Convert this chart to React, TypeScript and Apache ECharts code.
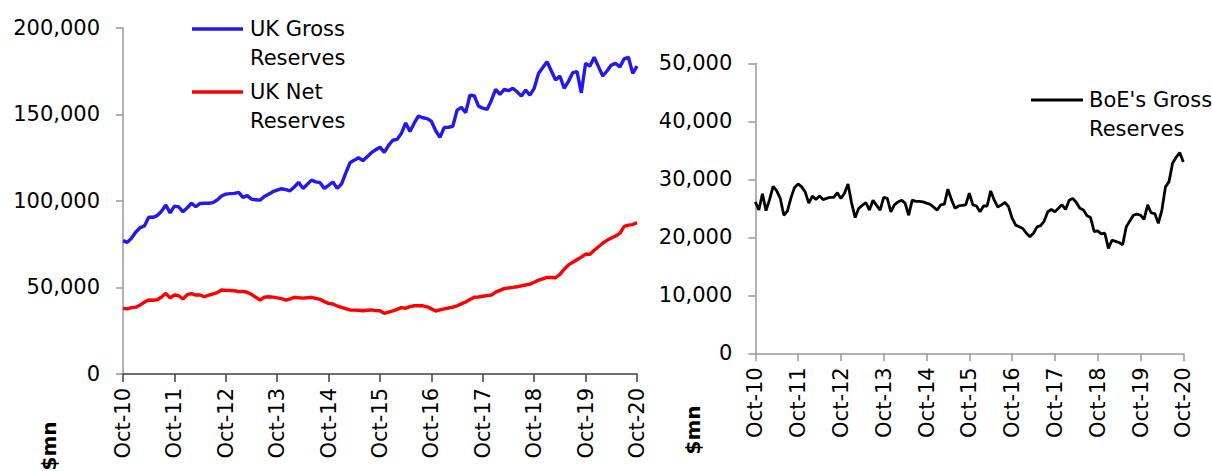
import React, { useEffect, useRef } from "react";
import * as echarts from "echarts";

// Monthly, Oct-10 .. Oct-20 ($mn)
const monthNames = ["Jan", "Feb", "Mar", "Apr", "May", "Jun", "Jul", "Aug", "Sep", "Oct", "Nov", "Dec"];
const months: string[] = [];
for (let k = 0; k <= 120; k++) {
  const m = (9 + k) % 12;
  const y = 10 + Math.floor((9 + k) / 12);
  months.push(`${monthNames[m]}-${y}`);
}

const ukGross = [
  77000, 76000, 78500, 82000, 84500, 85500, 90500, 90500, 91500, 94000,
  97600, 93000, 97000, 96500, 93700, 96000, 98600, 96600, 98500, 98600,
  98600, 99000, 100500, 102800, 103900, 104200, 104300, 104900, 102000, 103000,
  101000, 100600, 100400, 102500, 103800, 105300, 106200, 107000, 106500, 105800,
  108000, 110700, 107200, 109500, 112000, 111000, 110500, 107200, 109000, 110900,
  107200, 109700, 116000, 122000, 123500, 124900, 123200, 125500, 127800, 129500,
  131000, 128000, 132000, 135000, 135500, 139000, 145000, 140000, 145000, 149000,
  148000, 147500, 146000, 140500, 136700, 142400, 142500, 143000, 152400, 154000,
  151000, 161000, 160700, 154700, 153500, 152800, 158000, 164400, 161500, 164400,
  163600, 165000, 163000, 160500, 164000, 161100, 165000, 173600, 177000, 180300,
  175000, 169800, 172100, 165000, 169000, 174000, 174600, 162400, 179400, 177800,
  182900, 177500, 172100, 175000, 178400, 179400, 177400, 182000, 182900, 173600,
  177800,
];

const ukNet = [
  37900, 37600, 38300, 38600, 39800, 41500, 42700, 42600, 42900, 44500,
  46600, 44000, 45600, 45200, 43300, 45800, 46400, 45600, 45600, 44600,
  45500, 46200, 47000, 48500, 48300, 48200, 48100, 47500, 47700, 47200,
  46000, 44300, 42700, 44400, 44600, 44400, 44000, 43500, 42700, 43300,
  44300, 44000, 43800, 44000, 44300, 43700, 43100, 41800, 40800, 40400,
  39300, 38500, 37700, 37000, 36900, 36800, 36500, 36800, 37000, 36600,
  36500, 35000, 35700, 36400, 37300, 38300, 38000, 38900, 39400, 39400,
  39400, 38800, 37600, 36400, 37000, 37600, 38100, 38600, 39400, 40500,
  41600, 43000, 44300, 44500, 44900, 45300, 45600, 47300, 48300, 49300,
  49700, 50000, 50400, 50900, 51400, 51900, 53000, 54200, 55000, 55800,
  55700, 55600, 57500, 60500, 63000, 64500, 66000, 67500, 69300, 69100,
  71500, 73500, 75500, 77200, 78500, 79700, 81200, 85200, 86000, 86300,
  87400,
];

const boeGross = [
  26100, 24700, 27500, 24600, 26500, 28800, 28000, 26700, 23800, 24500,
  26800, 28600, 29200, 28700, 27800, 25900, 27100, 26500, 27100, 26500,
  26700, 26900, 26900, 27700, 26700, 27600, 29200, 25900, 23400, 25000,
  25500, 26000, 24700, 26400, 25500, 24700, 26900, 26700, 24400, 25600,
  26100, 26400, 25900, 23800, 26400, 26200, 26200, 26100, 25900, 25700,
  25200, 24700, 25600, 25700, 28300, 26500, 25000, 25400, 25500, 25600,
  27600, 25600, 25400, 24400, 25400, 25400, 28000, 26400, 25200, 25600,
  26000, 25300, 23300, 22100, 21800, 21500, 20700, 20100, 20700, 21800,
  22000, 22800, 24400, 24800, 24400, 25000, 25600, 24800, 26400, 26700,
  26000, 25000, 24700, 23700, 23400, 21000, 21100, 20600, 20700, 18100,
  19500, 19300, 19100, 18700, 21800, 22800, 23800, 24000, 23800, 23100,
  25600, 24200, 24100, 22400, 24700, 28700, 29600, 32800, 33800, 34600,
  33000,
];

const FONT = "DejaVu Sans";
const fmt = (v: number) => v.toLocaleString("en-US");

export default function App() {
  const ref = useRef<HTMLDivElement>(null);
  useEffect(() => {
    document.body.style.margin = "0";
    const chart = echarts.init(ref.current!, null, { renderer: "svg" });
    const xAxisBase = (gridIndex: number, lineColor: string) => ({
      type: "category",
      gridIndex,
      data: months,
      boundaryGap: false,
      axisLine: { show: true, lineStyle: { color: lineColor, width: 1.5 } },
      axisTick: {
        show: true,
        interval: (i: number) => i % 12 === 0,
        length: 8,
        lineStyle: { color: lineColor, width: 1.5 },
      },
      axisLabel: {
        interval: (i: number) => i % 12 === 0,
        rotate: 90,
        margin: 14,
        fontSize: 21,
        color: "#000",
        fontFamily: FONT,
        formatter: (v: string) => v.replace(/^\w+/, "Oct"),
      },
      splitLine: { show: false },
    });
    const yAxisBase = (gridIndex: number, max: number, interval: number) => ({
      type: "value",
      gridIndex,
      min: 0,
      max,
      interval,
      axisLine: { show: true, lineStyle: { color: "#999", width: 1.5 } },
      axisTick: { show: true, length: 7, lineStyle: { color: "#999", width: 1.5 } },
      axisLabel: { margin: 23, fontSize: 21, color: "#000", fontFamily: FONT, formatter: fmt },
      splitLine: { show: false },
    });
    chart.setOption({
      animation: false,
      grid: [
        { left: 123, top: 27.7, width: 514, height: 346.3 },
        { left: 755.3, top: 63.3, width: 428, height: 290 },
      ],
      xAxis: [xAxisBase(0, "#404040"), xAxisBase(1, "#999")],
      yAxis: [yAxisBase(0, 200000, 50000), yAxisBase(1, 50000, 10000)],
      series: [
        {
          name: "UK Gross Reserves",
          type: "line",
          xAxisIndex: 0,
          yAxisIndex: 0,
          data: ukGross,
          showSymbol: false,
          lineStyle: { color: "#2418f0", width: 3.4 },
        },
        {
          name: "UK Net Reserves",
          type: "line",
          xAxisIndex: 0,
          yAxisIndex: 0,
          data: ukNet,
          showSymbol: false,
          lineStyle: { color: "#ff0000", width: 3.4 },
        },
        {
          name: "BoE's Gross Reserves",
          type: "line",
          xAxisIndex: 1,
          yAxisIndex: 1,
          data: boeGross,
          showSymbol: false,
          lineStyle: { color: "#000000", width: 2.8 },
        },
      ],
      graphic: [
        { type: "line", shape: { x1: 192, y1: 29, x2: 243, y2: 29 }, style: { stroke: "#2418f0", lineWidth: 3.4 } },
        { type: "text", x: 250, y: 29, style: { text: "UK Gross", font: `21px '${FONT}'`, fill: "#000", verticalAlign: "middle" } },
        { type: "text", x: 250, y: 58, style: { text: "Reserves", font: `21px '${FONT}'`, fill: "#000", verticalAlign: "middle" } },
        { type: "line", shape: { x1: 192, y1: 92, x2: 243, y2: 92 }, style: { stroke: "#ff0000", lineWidth: 3.4 } },
        { type: "text", x: 250, y: 92, style: { text: "UK Net", font: `21px '${FONT}'`, fill: "#000", verticalAlign: "middle" } },
        { type: "text", x: 250, y: 121, style: { text: "Reserves", font: `21px '${FONT}'`, fill: "#000", verticalAlign: "middle" } },
        { type: "line", shape: { x1: 1031, y1: 100, x2: 1083, y2: 100 }, style: { stroke: "#000", lineWidth: 2.8 } },
        { type: "text", x: 1089, y: 100, style: { text: "BoE's Gross", font: `21px '${FONT}'`, fill: "#000", verticalAlign: "middle" } },
        { type: "text", x: 1089, y: 129, style: { text: "Reserves", font: `21px '${FONT}'`, fill: "#000", verticalAlign: "middle" } },
        {
          type: "text", x: 49, y: 446, rotation: Math.PI / 2,
          style: { text: "$mn", font: `bold 20px '${FONT}'`, fill: "#000", align: "center", verticalAlign: "middle" },
        },
        {
          type: "text", x: 693, y: 430, rotation: Math.PI / 2,
          style: { text: "$mn", font: `bold 20px '${FONT}'`, fill: "#000", align: "center", verticalAlign: "middle" },
        },
      ],
    });
    return () => chart.dispose();
  }, []);
  return <div ref={ref} style={{ width: 1212, height: 471 }} />;
}
